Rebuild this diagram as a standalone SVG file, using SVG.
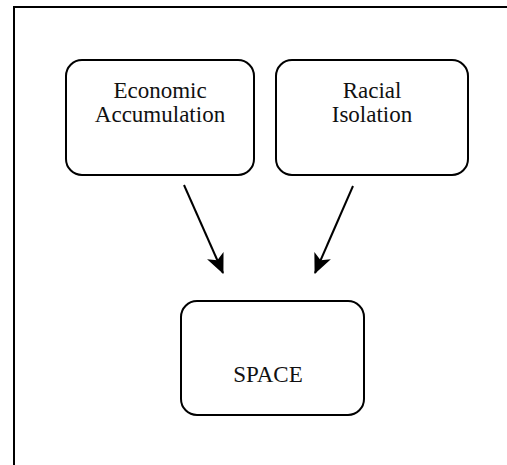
<svg xmlns="http://www.w3.org/2000/svg" width="507" height="465" viewBox="0 0 507 465">
<style>
.box{fill:#fff;stroke:#000;stroke-width:2}
.t{font-family:'Liberation Serif','Times New Roman',Times,serif;font-size:23px;fill:#111;text-anchor:middle}
.c{stroke:#000;stroke-width:2;fill:none}
</style>
<defs>
<marker id="ah" markerWidth="20" markerHeight="18" refX="19" refY="9" orient="auto" markerUnits="userSpaceOnUse" viewBox="0 0 20 18">
<path d="M0,0 L20,9 L0,18 L5,9 Z" fill="#000"/>
</marker>
</defs>
<rect width="507" height="465" fill="#fff"/>
<g id="frame"><path d="M14,465 L14,7 L507,7" fill="none" stroke="#000" stroke-width="2"/></g>
<g id="economic">
<rect class="box" x="66" y="60" width="188" height="115" rx="16"/>
<text class="t" x="160" y="98">Economic</text>
<text class="t" x="160" y="122">Accumulation</text>
</g>
<g id="racial">
<rect class="box" x="276" y="60" width="192" height="115" rx="16"/>
<text class="t" x="372" y="98">Racial</text>
<text class="t" x="372" y="122">Isolation</text>
</g>
<g id="space">
<rect class="box" x="181" y="301" width="183" height="114" rx="16"/>
<text class="t" x="268" y="382">SPACE</text>
</g>
<g id="connectors">
<line class="c" x1="184" y1="185" x2="223" y2="273" marker-end="url(#ah)"/>
<line class="c" x1="353" y1="186" x2="315" y2="273" marker-end="url(#ah)"/>
</g>
</svg>
